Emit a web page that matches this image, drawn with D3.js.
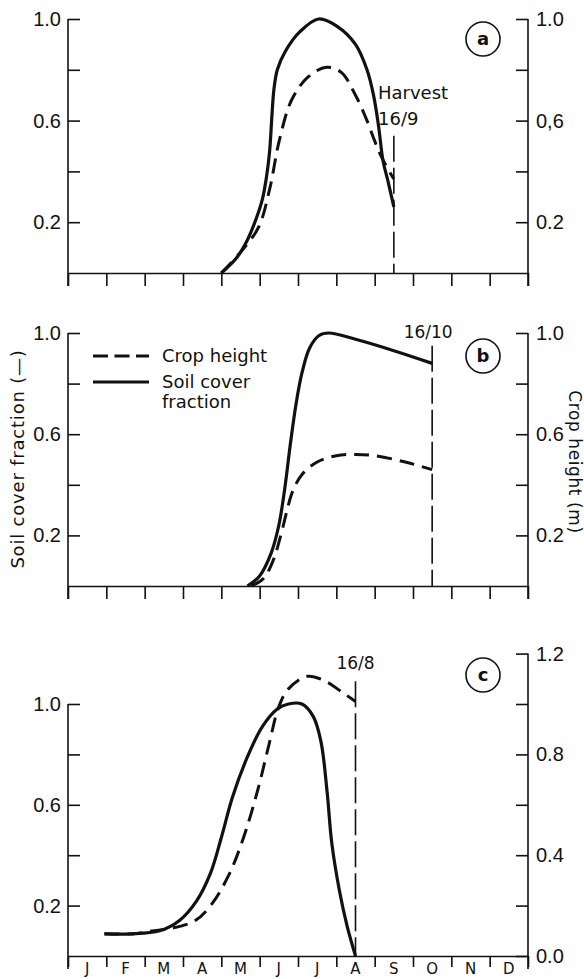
<!DOCTYPE html>
<html>
<head>
<meta charset="utf-8">
<script src="https://cdn.jsdelivr.net/npm/d3@7"></script>
<style>
  body { margin: 0; background: #fff; }
  svg text { font-family: "DejaVu Sans", sans-serif; fill: #111; }
  .tick text { font-family: "Liberation Sans Narrow", "Liberation Sans", sans-serif; font-size: 20px; }
</style>
</head>
<body>
<svg id="chart"></svg>
<script>
const w = 584;
const h = 979;

// month axis (0 = 1 Jan, 12 = 31 Dec)
const months = ['J', 'F', 'M', 'A', 'M', 'J', 'J', 'A', 'S', 'O', 'N', 'D'];

// panel a  [month, value]
const coverA = [[4.0, 0], [4.4, 0.06], [4.68, 0.13], [4.9, 0.21], [5.07, 0.29], [5.18, 0.38],
  [5.26, 0.48], [5.32, 0.62], [5.37, 0.72], [5.46, 0.80], [5.66, 0.87], [6.05, 0.95],
  [6.54, 1.0], [7.03, 0.97], [7.5, 0.90], [7.8, 0.80], [7.97, 0.70], [8.1, 0.58],
  [8.22, 0.44], [8.35, 0.36], [8.5, 0.26]];
const heightA = [[4.0, 0], [4.49, 0.08], [4.97, 0.18], [5.26, 0.33], [5.51, 0.52],
  [5.83, 0.68], [6.25, 0.77], [6.74, 0.81], [7.13, 0.79], [7.5, 0.70], [7.8, 0.60],
  [8.0, 0.52], [8.2, 0.45], [8.5, 0.37]];
const harvestA = 8.5;

// panel b
const coverB = [[4.68, 0], [5.0, 0.04], [5.3, 0.13], [5.5, 0.24], [5.65, 0.38], [5.8, 0.56],
  [5.95, 0.72], [6.1, 0.84], [6.3, 0.94], [6.55, 0.99], [6.8, 1.0], [7.5, 0.975],
  [8.5, 0.93], [9.5, 0.88]];
const heightB = [[4.78, 0], [5.1, 0.03], [5.35, 0.1], [5.55, 0.2], [5.7, 0.29], [5.85, 0.37],
  [6.1, 0.44], [6.5, 0.49], [7.0, 0.515], [7.5, 0.52], [8.0, 0.515], [8.8, 0.49], [9.5, 0.46]];
const harvestB = 9.5;

// panel c
const coverC = [[0.95, 0.088], [1.64, 0.088], [2.39, 0.10], [2.9, 0.14], [3.36, 0.22],
  [3.72, 0.33], [4.0, 0.47], [4.29, 0.63], [4.68, 0.79], [5.07, 0.91], [5.46, 0.98],
  [5.75, 1.0], [6.1, 1.0], [6.4, 0.95], [6.6, 0.85], [6.76, 0.65], [6.88, 0.45],
  [7.08, 0.26], [7.28, 0.12], [7.5, 0]];
const heightC = [[0.95, 0.088], [1.7, 0.088], [2.18, 0.099], [2.7, 0.11], [3.31, 0.14],
  [3.72, 0.2], [4.19, 0.32], [4.58, 0.47], [4.97, 0.67], [5.26, 0.85], [5.5, 0.99],
  [5.75, 1.06], [6.24, 1.11], [6.72, 1.09], [7.12, 1.05], [7.5, 1.01]];
const harvestC = 7.5;

// tick values / labels
const leftTicks = [0.2, 0.4, 0.6, 0.8, 1.0];
const leftLabels = ['0.2', '', '0.6', '', '1.0'];
const rightLabelsA = ['0.2', '', '0,6', '', '1.0'];
const rightLabelsB = ['0.2', '', '0.6', '', '1.0'];
const rightTicksC = [0.0, 0.2, 0.4, 0.6, 0.8, 1.0, 1.2];
const rightLabelsC = ['0.0', '', '0.4', '', '0.8', '', '1.2'];

const svg = d3.select('#chart').attr('width', w).attr('height', h);

const x = d3.scaleLinear().domain([0, 12]).range([68, 528]);

const line = d3.line().curve(d3.curveCatmullRom.alpha(0.5));

function panel(cfg) {
  const y = d3.scaleLinear().domain([0, cfg.max]).range([cfg.base, cfg.base - cfg.max * cfg.unit]);
  const g = svg.append('g');
  const bottom = cfg.base + 13;
  line.x(d => x(d[0])).y(d => y(d[1]));

  // baseline + month ticks
  g.append('g')
    .attr('transform', `translate(0,${cfg.base})`)
    .call(d3.axisBottom(x).ticks(12).tickSize(cfg.xTick).tickSizeOuter(0).tickFormat(''))
    .call(s => s.selectAll('line,path').attr('stroke', '#111').attr('stroke-width', 1.6));

  // left axis
  g.append('line').attr('x1', x(0)).attr('x2', x(0))
    .attr('y1', y(1.0)).attr('y2', bottom).attr('stroke', '#111').attr('stroke-width', 1.6);
  g.append('g')
    .attr('transform', `translate(${x(0)},0)`)
    .call(d3.axisLeft(y).tickValues(leftTicks).tickSize(-12).tickPadding(7)
      .tickFormat((d, i) => leftLabels[i]))
    .call(s => s.select('.domain').remove())
    .call(s => s.selectAll('line').attr('stroke', '#111').attr('stroke-width', 1.6));

  // right axis
  g.append('line').attr('x1', x(12)).attr('x2', x(12))
    .attr('y1', y(cfg.max)).attr('y2', bottom).attr('stroke', '#111').attr('stroke-width', 1.6);
  g.append('g')
    .attr('transform', `translate(${x(12)},0)`)
    .call(d3.axisRight(y).tickValues(cfg.rightTicks).tickSize(-12).tickPadding(8)
      .tickFormat((d, i) => cfg.rightLabels[i]))
    .call(s => s.select('.domain').remove())
    .call(s => s.selectAll('line').attr('stroke', '#111').attr('stroke-width', 1.6));

  // harvest line
  g.append('line')
    .attr('x1', x(cfg.harvest)).attr('x2', x(cfg.harvest))
    .attr('y1', y(cfg.harvestTop)).attr('y2', y(0))
    .attr('stroke', '#111').attr('stroke-width', 1.6).attr('stroke-dasharray', '26,6');

  g.append('path').datum(cfg.height)
    .attr('d', line).attr('fill', 'none').attr('stroke', '#111')
    .attr('stroke-width', 3).attr('stroke-dasharray', '15,8');
  g.append('path').datum(cfg.cover)
    .attr('d', line).attr('fill', 'none').attr('stroke', '#111')
    .attr('stroke-width', 3.2);

  // panel letter
  g.append('circle').attr('cx', 483).attr('cy', cfg.letterY).attr('r', 17)
    .attr('fill', 'none').attr('stroke', '#111').attr('stroke-width', 1.6);
  g.append('text').attr('x', 483).attr('y', cfg.letterY).attr('dy', '0.35em')
    .attr('text-anchor', 'middle').attr('font-size', 18).attr('font-weight', 'bold')
    .text(cfg.letter);

  return { g, y };
}

const a = panel({ max: 1, base: 273, unit: 254, xTick: 13, rightTicks: leftTicks,
  rightLabels: rightLabelsA, cover: coverA, height: heightA, harvest: harvestA,
  harvestTop: 0.54, letter: 'a', letterY: 39 });
a.g.append('text').attr('x', 378).attr('y', 99).attr('font-size', 18).text('Harvest');
a.g.append('text').attr('x', 378).attr('y', 125).attr('font-size', 18).text('16/9');

const b = panel({ max: 1, base: 586, unit: 253, xTick: 13, rightTicks: leftTicks,
  rightLabels: rightLabelsB, cover: coverB, height: heightB, harvest: harvestB,
  harvestTop: 0.95, letter: 'b', letterY: 356 });
b.g.append('text').attr('x', x(harvestB) - 4).attr('y', 338).attr('text-anchor', 'middle')
  .attr('font-size', 17).text('16/10');

// legend
b.g.append('line').attr('x1', 93).attr('x2', 149).attr('y1', 356).attr('y2', 356)
  .attr('stroke', '#111').attr('stroke-width', 3).attr('stroke-dasharray', '15,6.5');
b.g.append('line').attr('x1', 93).attr('x2', 149).attr('y1', 382).attr('y2', 382)
  .attr('stroke', '#111').attr('stroke-width', 3.2);
b.g.append('text').attr('x', 162).attr('y', 362).attr('font-size', 18).text('Crop height');
b.g.append('text').attr('x', 162).attr('y', 388).attr('font-size', 18).text('Soil cover');
b.g.append('text').attr('x', 162).attr('y', 408).attr('font-size', 18).text('fraction');

// axis titles
svg.append('text').attr('transform', 'translate(24,459) rotate(-90)')
  .attr('text-anchor', 'middle').attr('font-size', 18).attr('letter-spacing', 0.8)
  .text('Soil cover fraction (\u2014)');
svg.append('text').attr('transform', 'translate(569,462) rotate(90)')
  .attr('text-anchor', 'middle').attr('font-size', 17).attr('letter-spacing', 0.6)
  .text('Crop height (m)');

const c = panel({ max: 1.2, base: 956, unit: 252, xTick: 11, rightTicks: rightTicksC,
  rightLabels: rightLabelsC, cover: coverC, height: heightC, harvest: harvestC,
  harvestTop: 1.09, letter: 'c', letterY: 675 });
c.g.append('text').attr('x', x(harvestC)).attr('y', 669).attr('text-anchor', 'middle')
  .attr('font-size', 17).text('16/8');

// month labels
c.g.selectAll('text.month')
  .data(months)
  .enter()
  .append('text')
  .attr('class', 'month')
  .attr('x', (d, i) => x(i + 0.5))
  .attr('y', 974)
  .attr('text-anchor', 'middle')
  .attr('font-size', 15)
  .text(d => d);
</script>
</body>
</html>
